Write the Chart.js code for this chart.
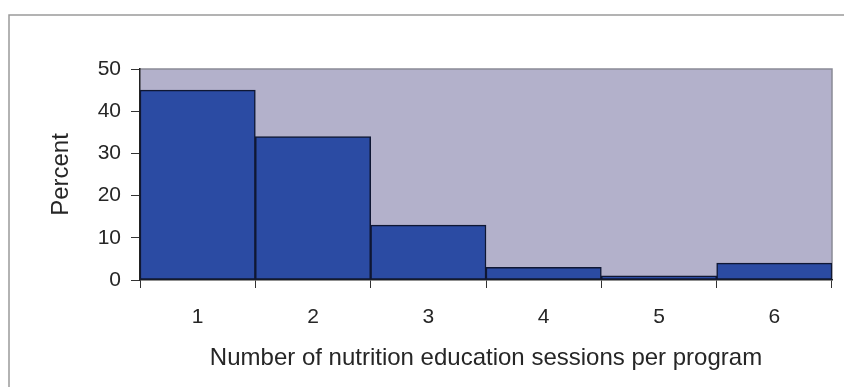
<!DOCTYPE html>
<html>
<head>
<meta charset="utf-8">
<script src="https://cdn.jsdelivr.net/npm/chart.js@4"></script>
<style>
  html, body { margin: 0; padding: 0; background: #fff; }
  #wrap { position: relative; width: 844px; height: 387px; }
</style>
</head>
<body>
<div id="wrap"><canvas id="sessionsChart" width="844" height="387"></canvas></div>
<script>
// sessions per program and share of programs
const sessions = ['1', '2', '3', '4', '5', '6'];
const percent = [45, 34, 13, 3, 1, 4];
const yTicks = [0, 10, 20, 30, 40, 50];

const textColor = '#262626';
const fontFamily = 'Liberation Sans, Arial, sans-serif';

// plot background plus the frame around the whole figure
const framePlugin = {
  id: 'frame',
  beforeDraw(chart) {
    const { ctx, chartArea: a } = chart;
    ctx.save();
    ctx.fillStyle = '#b3b1cb';
    ctx.fillRect(a.left, a.top, a.right - a.left, a.bottom - a.top);
    ctx.strokeStyle = '#8a8a96';
    ctx.lineWidth = 1.5;
    ctx.beginPath();
    ctx.moveTo(a.left, a.top);
    ctx.lineTo(a.right, a.top);
    ctx.lineTo(a.right, a.bottom);
    ctx.stroke();
    // outer box
    ctx.strokeStyle = '#9a9a9a';
    ctx.lineWidth = 1.5;
    ctx.beginPath();
    ctx.moveTo(9, 387);
    ctx.lineTo(9, 15);
    ctx.lineTo(844, 15);
    ctx.stroke();
    ctx.restore();
  }
};

const ctx = document.getElementById('sessionsChart').getContext('2d');
new Chart(ctx, {
  type: 'bar',
  data: {
    labels: sessions,
    datasets: [{
      label: 'Percent',
      data: percent,
      backgroundColor: '#2b4ba3',
      borderColor: '#0f1733',
      borderWidth: 1.5,
      borderSkipped: false,
      categoryPercentage: 1,
      barPercentage: 1
    }]
  },
  options: {
    responsive: false,
    animation: false,
    layout: { padding: { top: 69, right: 12, left: 0, bottom: 0 } },
    plugins: { legend: { display: false }, tooltip: { enabled: false } },
    scales: {
      x: {
        offset: true,
        grid: {
          offset: true,
          drawOnChartArea: false,
          tickLength: 8,
          color: '#333',
          lineWidth: 1
        },
        border: { color: '#222', width: 1.5 },
        ticks: {
          color: textColor,
          padding: 17,
          font: { family: fontFamily, size: 21 }
        },
        title: {
          display: true,
          text: 'Number of nutrition education sessions per program',
          color: textColor,
          font: { family: fontFamily, size: 24 },
          padding: { top: 0, bottom: 14 }
        },
        afterFit(scale) { scale.height = 107; }
      },
      y: {
        min: 0,
        max: 50,
        afterBuildTicks(scale) { scale.ticks = yTicks.map(v => ({ value: v })); },
        grid: {
          drawOnChartArea: false,
          tickLength: 9,
          color: '#333',
          lineWidth: 1
        },
        border: { color: '#222', width: 1.5 },
        ticks: {
          color: textColor,
          padding: 10,
          font: { family: fontFamily, size: 21 }
        },
        title: {
          display: true,
          text: 'Percent',
          color: textColor,
          font: { family: fontFamily, size: 24 },
          padding: { top: 47, bottom: 0 }
        },
        afterFit(scale) { scale.width = 140; }
      }
    }
  },
  plugins: [framePlugin]
});
</script>
</body>
</html>
